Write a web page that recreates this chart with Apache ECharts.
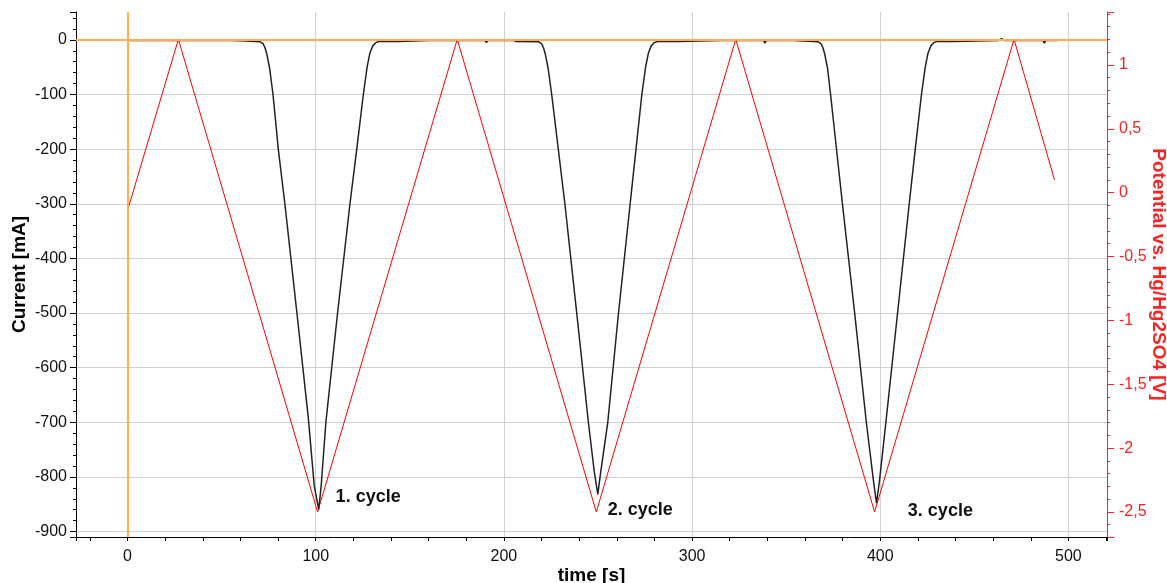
<!DOCTYPE html>
<html>
<head>
<meta charset="utf-8">
<script src="https://cdn.jsdelivr.net/npm/echarts@6/dist/echarts.min.js"></script>
<style>
  html, body { margin: 0; padding: 0; background: #ffffff; }
  #chart { width: 1167px; height: 583px; }
</style>
</head>
<body>
<div id="chart"></div>
<script>
// Cyclic voltammetry run: cell current (left axis) and electrode potential (right axis) over time.

// Current trace [time s, current mA]
const currentTime = [
  0, 10, 20, 30, 42, 42.7, 43.4, 55, 60, 61, 70.5, 72, 73, 74, 75.5, 77.3, 80.1, 83.6, 90, 96,
  99.2, 101.6, 102.9, 105.4, 111.6, 118.2, 121.8, 125.3, 127.3, 128.8, 130.3, 132, 133.5, 144, 145,
  160, 175, 190, 190.7, 191.4, 205, 206.5, 218.5, 220, 221, 222, 223.5, 225.4, 232.4, 238.7, 244.9,
  248, 249.9, 251.5, 255.2, 260.9, 267.1, 270.2, 273.3, 275.3, 276.8, 278.3, 280, 281.5, 293, 294,
  315.5, 316, 316.6, 323, 338, 338.7, 339.4, 354, 355, 367, 368.5, 369.5, 370.5, 372, 373.6, 379.9,
  386.4, 392.6, 396.5, 398, 399.5, 403, 409.2, 415.4, 418.6, 421.9, 423.9, 425.4, 426.9, 428.5, 430,
  440, 441, 463, 464.5, 466, 471, 471.6, 472.2, 486.5, 487.2, 487.9, 494
];
const currentMA = [
  -1, -1, -1, -1, -1, -4, -1, -1, -1.5, -3, -3.5, -7, -14, -26, -52, -100, -200, -300, -500, -690,
  -816, -860, -816, -700, -500, -300, -200, -100, -50, -24, -11, -5, -3, -3, -1,
  -1, -1, -1, -5, -1, -1, -3, -3.5, -7, -14, -26, -52, -100, -300, -500, -700,
  -790, -832, -790, -700, -500, -300, -200, -100, -50, -24, -11, -5, -3, -3, -1,
  -1, -3, -1, -1, -1, -6, -1, -1, -3, -3.5, -7, -14, -26, -52, -100, -300,
  -500, -700, -810, -848, -810, -700, -500, -300, -200, -100, -50, -24, -11, -5, -3,
  -3, -1, -1, 2, -1, -1, 1.5, -1, -1, -6, -1, -1
];

// Potential sweep vertices [time s, potential V]
const potentialTime = [0, 27, 101, 175.2, 249.1, 323.2, 397, 471.1, 492.6];
const potentialV = [-0.14, 1.2, -2.5, 1.2, -2.5, 1.2, -2.5, 1.2, 0.1];

// Cycle annotations [time s, current mA, text]
const cycleTime = [110.3, 254.9, 414.4];
const cycleCurrent = [-836, -860, -862];
const cycleText = ['1. cycle', '2. cycle', '3. cycle'];

const zip = (a, b) => a.map((v, i) => [v, b[i]]);
const currentData = zip(currentTime, currentMA);
const potentialData = zip(potentialTime, potentialV);
const cycleData = cycleTime.map((t, i) => [t, cycleCurrent[i], cycleText[i]]);

const FONT = "'Liberation Sans', Arial, sans-serif";
const RED = '#ff2020';

const chart = echarts.init(document.getElementById('chart'), null, { renderer: 'canvas' });

chart.setOption({
  animation: false,
  backgroundColor: '#ffffff',
  grid: { left: 76, right: 60, top: 12, bottom: 46, containLabel: false, outerBoundsMode: 'none' },
  xAxis: {
    type: 'value',
    min: -27.4,
    max: 520.5,
    splitNumber: 5,
    name: 'time [s]',
    nameLocation: 'middle',
    nameGap: 29,
    nameMoveOverlap: false,
    nameTextStyle: { fontFamily: FONT, fontSize: 19, fontWeight: 'bold', color: '#000' },
    axisLine: { show: true, onZero: false, lineStyle: { color: '#000', width: 1 } },
    axisTick: { show: true, length: 4, lineStyle: { color: '#000' } },
    minorTick: { show: true, splitNumber: 5, length: 4, lineStyle: { color: '#000' } },
    axisLabel: { showMinLabel: false, showMaxLabel: false, margin: 12, fontFamily: FONT, fontSize: 16, color: '#111' },
    splitLine: { show: true, showMinLine: false, showMaxLine: false, lineStyle: { color: '#d0d0d0', width: 1 } }
  },
  yAxis: [
    {
      type: 'value',
      position: 'left',
      min: -910,
      max: 51,
      splitNumber: 10,
      name: 'Current [mA]',
      nameLocation: 'middle',
      nameGap: 47,
      nameMoveOverlap: false,
      nameTextStyle: { fontFamily: FONT, fontSize: 19, fontWeight: 'bold', color: '#000' },
      axisLine: { show: true, onZero: false, lineStyle: { color: '#000', width: 1 } },
      axisTick: { show: true, length: 6, lineStyle: { color: '#000' } },
      minorTick: { show: true, splitNumber: 5, length: 3, lineStyle: { color: '#000' } },
      axisLabel: { showMinLabel: false, showMaxLabel: false, margin: 9, fontFamily: FONT, fontSize: 16, color: '#111' },
      splitLine: { show: true, showMinLine: false, showMaxLine: false, lineStyle: { color: '#d0d0d0', width: 1 } }
    },
    {
      type: 'value',
      position: 'right',
      min: -2.696,
      max: 1.414,
      splitNumber: 8,
      name: 'Potential vs. Hg/Hg2SO4 [V]',
      nameLocation: 'middle',
      nameRotate: -90,
      nameGap: 42,
      nameMoveOverlap: false,
      nameTextStyle: { fontFamily: FONT, fontSize: 19, fontWeight: 'bold', color: RED },
      axisLine: { show: true, onZero: false, lineStyle: { color: RED, width: 1 } },
      axisTick: { show: true, length: 7, lineStyle: { color: RED } },
      minorTick: { show: true, splitNumber: 5, length: 3, lineStyle: { color: RED } },
      axisLabel: {
        showMinLabel: false, showMaxLabel: false, margin: 12,
        fontFamily: FONT, fontSize: 16, color: RED,
        formatter: v => String(v).replace('.', ',')
      },
      splitLine: { show: false }
    }
  ],
  series: [
    {
      name: 'zero lines',
      type: 'line',
      data: [],
      z: 1,
      markLine: {
        silent: true,
        symbol: ['none', 'none'],
        label: { show: false },
        lineStyle: { color: '#ffab58', width: 2, type: 'solid' },
        data: [{ yAxis: 0 }, { xAxis: 0 }]
      }
    },
    {
      name: 'Potential',
      type: 'line',
      yAxisIndex: 1,
      data: potentialData,
      showSymbol: false,
      z: 2,
      lineStyle: { color: '#ff0000', width: 1 }
    },
    {
      name: 'Current',
      type: 'line',
      yAxisIndex: 0,
      data: currentData,
      showSymbol: false,
      z: 3,
      lineStyle: { color: '#222222', width: 1.5 }
    },
    {
      name: 'cycles',
      type: 'scatter',
      yAxisIndex: 0,
      data: cycleData,
      symbolSize: 1,
      itemStyle: { color: 'rgba(0,0,0,0)', opacity: 1 },
      z: 4,
      label: {
        show: true,
        position: 'right',
        distance: 0,
        formatter: p => p.data[2],
        fontFamily: FONT,
        fontSize: 18,
        fontWeight: 'bold',
        color: '#111',
        opacity: 1
      }
    }
  ]
});
</script>
</body>
</html>
